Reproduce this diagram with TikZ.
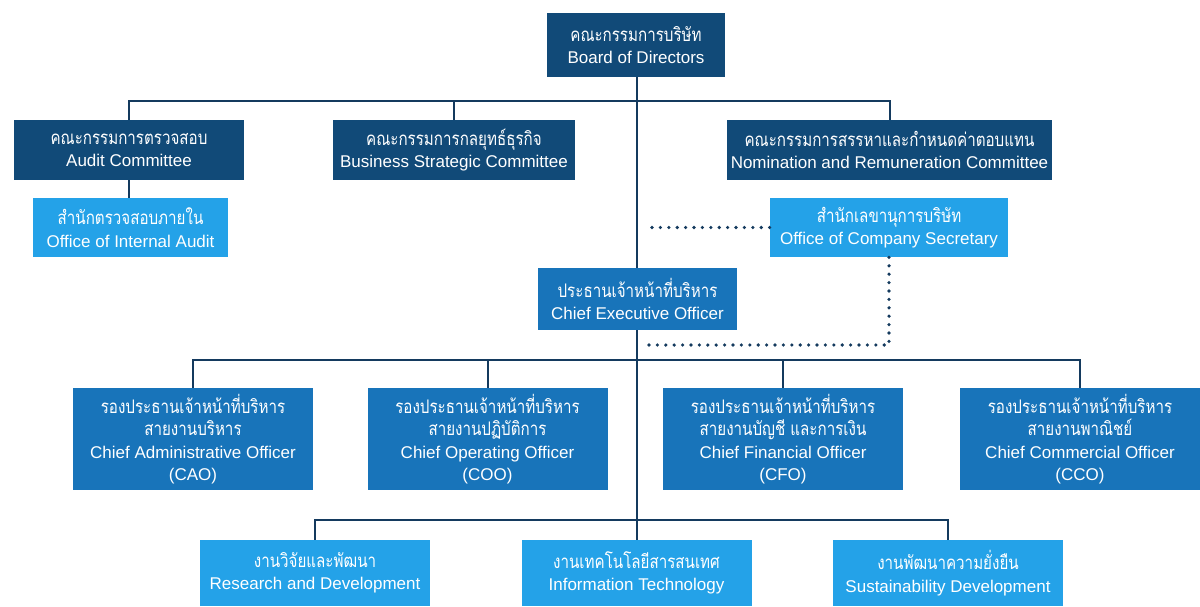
\documentclass[tikz,border=0pt]{standalone}
\usepackage{fontspec}
\setmainfont{Liberation Sans}
\newfontfamily\thaifont[Script=Thai,Scale=1.1,FakeStretch=0.81]{Loma}
\definecolor{boardblue}{RGB}{17,74,120}
\definecolor{execblue}{RGB}{24,116,186}
\definecolor{unitblue}{RGB}{36,162,232}
\definecolor{linkblue}{RGB}{20,58,94}
\newcommand{\thline}[1]{{\thaifont #1}}

\begin{document}
\begin{tikzpicture}[x=0.5pt,y=-0.5pt,
  orgbox/.style={text=white,inner sep=0pt,align=center,font=\fontsize{8.5}{11.2}\selectfont},
  board/.style={orgbox,fill=boardblue,minimum height=30pt},
  exec/.style={orgbox,fill=execblue},
  unit/.style={orgbox,fill=unitblue},
  link/.style={draw=linkblue,line width=1pt},
  dots/.style={draw=linkblue,line width=1.8pt,line cap=round,dash pattern=on 0pt off 4.2pt}]
\useasboundingbox (0,0) rectangle (1200,606);
\node[board,minimum width=89pt,minimum height=32pt] at (636,45) (bod) {\thline{คณะกรรมการบริษัท}\\Board of Directors};
\node[board,minimum width=115pt] at (129,150) (ac) {\thline{คณะกรรมการตรวจสอบ}\\Audit Committee};
\node[board,minimum width=121pt] at (454,150) (bsc) {\thline{คณะกรรมการกลยุทธ์ธุรกิจ}\\Business Strategic Committee};
\node[board,minimum width=162.5pt] at (889.5,150) (nrc) {\thline{คณะกรรมการสรรหาและกำหนดค่าตอบแทน}\\Nomination and Remuneration Committee};
\node[unit,minimum width=97.5pt,minimum height=29.5pt] at (130.5,227.5) (oia) {\thline{สำนักตรวจสอบภายใน}\\Office of Internal Audit};
\node[unit,minimum width=119pt,minimum height=29.5pt] at (889,227.5) (ocs) {\thline{สำนักเลขานุการบริษัท}\\Office of Company Secretary};
\node[exec,minimum width=99.5pt,minimum height=31pt] at (637.5,299) (ceo) {\thline{ประธานเจ้าหน้าที่บริหาร}\\Chief Executive Officer};
\node[exec,minimum width=120pt,minimum height=51pt] at (193,439) (cao) {\thline{รองประธานเจ้าหน้าที่บริหาร}\\\thline{สายงานบริหาร}\\Chief Administrative Officer\\(CAO)};
\node[exec,minimum width=120pt,minimum height=51pt] at (487.5,439) (coo) {\thline{รองประธานเจ้าหน้าที่บริหาร}\\\thline{สายงานปฏิบัติการ}\\Chief Operating Officer\\(COO)};
\node[exec,minimum width=120pt,minimum height=51pt] at (783,439) (cfo) {\thline{รองประธานเจ้าหน้าที่บริหาร}\\\thline{สายงานบัญชี และการเงิน}\\Chief Financial Officer\\(CFO)};
\node[exec,minimum width=120pt,minimum height=51pt] at (1080,439) (cco) {\thline{รองประธานเจ้าหน้าที่บริหาร}\\\thline{สายงานพาณิชย์}\\Chief Commercial Officer\\(CCO)};
\node[unit,minimum width=115pt,minimum height=33pt] at (315,573) (rnd) {\thline{งานวิจัยและพัฒนา}\\Research and Development};
\node[unit,minimum width=115pt,minimum height=33pt] at (636.5,573) (itd) {\thline{งานเทคโนโลยีสารสนเทศ}\\Information Technology};
\node[unit,minimum width=115pt,minimum height=33pt] at (948,573) (sdv) {\thline{งานพัฒนาความยั่งยืน}\\Sustainability Development};
\coordinate (cbus) at (637,101);
\coordinate (vbus) at (637,360);
\coordinate (bbus) at (637,520);
\coordinate (secend) at (645,227.5);
\coordinate (ceodot) at (641,345);
\draw[link] (bod.south -| cbus) -- (ceo.north -| cbus);
\draw[link] (ac.north) |- (cbus) -| (nrc.north);
\draw[link] (bsc.north) -- (bsc.north |- cbus);
\draw[link] (ac.south) -- (ac.south |- oia.north);
\draw[link] (ceo.south -| bbus) -- (bbus);
\draw[link] (cao.north) |- (vbus) -| (cco.north);
\draw[link] (coo.north) -- (coo.north |- vbus);
\draw[link] (cfo.north) -- (cfo.north |- vbus);
\draw[link] (rnd.north) |- (bbus) -| (sdv.north);
\draw[link] (bbus) -- (itd.north -| bbus);
\draw[dots] (ocs.west) -- (secend);
\draw[dots] (ocs.south) |- (ceodot);
%\draw[dots] (ceodot) -- (ceo.south -| ceodot);
\end{tikzpicture}
\end{document}
